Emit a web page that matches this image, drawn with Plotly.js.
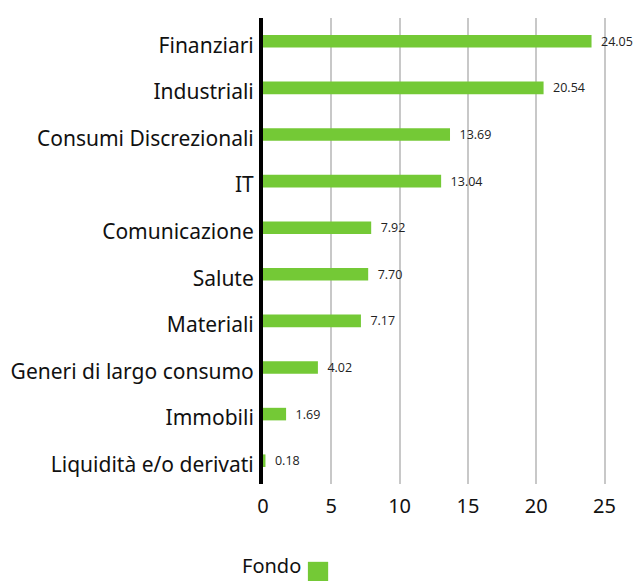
<!DOCTYPE html>
<html><head><meta charset="utf-8">
<script src="https://cdn.plot.ly/plotly-3.0.1.min.js"></script>
<style>body{margin:0;background:#fff}#c{width:641px;height:581px}</style>
</head><body><div id="c"></div>
<script>
const categories = ["Finanziari","Industriali","Consumi Discrezionali","IT","Comunicazione","Salute","Materiali","Generi di largo consumo","Immobili","Liquidità e/o derivati"];
const values = [24.05,20.54,13.69,13.04,7.92,7.70,7.17,4.02,1.69,0.18];
const seriesName = "Fondo";
const tickVals = [0,5,10,15,20,25];

const green = "#74c936";
const trace = {
  type: "bar", orientation: "h",
  y: categories, x: values, name: seriesName,
  marker: {color: green},
  width: 0.27,
  text: values.map(v => "\u00a0\u00a0" + v.toFixed(2)),
  textposition: "outside",
  constraintext: "none",
  cliponaxis: false,
  textfont: {family: "Open Sans, sans-serif", size: 12.5, color: "#222"},
  hoverinfo: "none",
  showlegend: false
};
const layout = {
  width: 641, height: 581,
  margin: {l: 263, r: 16, t: 18, b: 97},
  paper_bgcolor: "#fff", plot_bgcolor: "#fff",
  font: {family: "Noto Sans, sans-serif", color: "#111"},
  xaxis: {
    range: [0, 26.5], tickvals: tickVals, showgrid: true,
    gridcolor: "#c8c8c8", gridwidth: 2, zeroline: false, showline: false,
    ticks: "", ticklabelstandoff: 8, tickfont: {size: 20, color: "#111"}, fixedrange: true
  },
  yaxis: {
    autorange: "reversed", showgrid: false, zeroline: false,
    showline: true, linecolor: "#000", linewidth: 4,
    ticks: "", ticklabelstandoff: 1, ticklabelshift: -4,
    tickfont: {size: 21, color: "#111"}, fixedrange: true
  },
  annotations: [{
    xref: "paper", yref: "paper", x: 0.107, y: -0.206, xanchor: "right", yanchor: "bottom",
    text: seriesName, showarrow: false, borderpad: 0,
    font: {family: "Noto Sans, sans-serif", size: 20, color: "#111"}
  }],
  shapes: [{
    type: "rect", xref: "paper", yref: "paper", layer: "above",
    x0: 0.124, x1: 0.18, y0: -0.21, y1: -0.167,
    fillcolor: green, line: {width: 0}
  }],
  bargap: 0.7
};
Plotly.newPlot("c", [trace], layout, {displayModeBar: false, staticPlot: true});
</script></body></html>
